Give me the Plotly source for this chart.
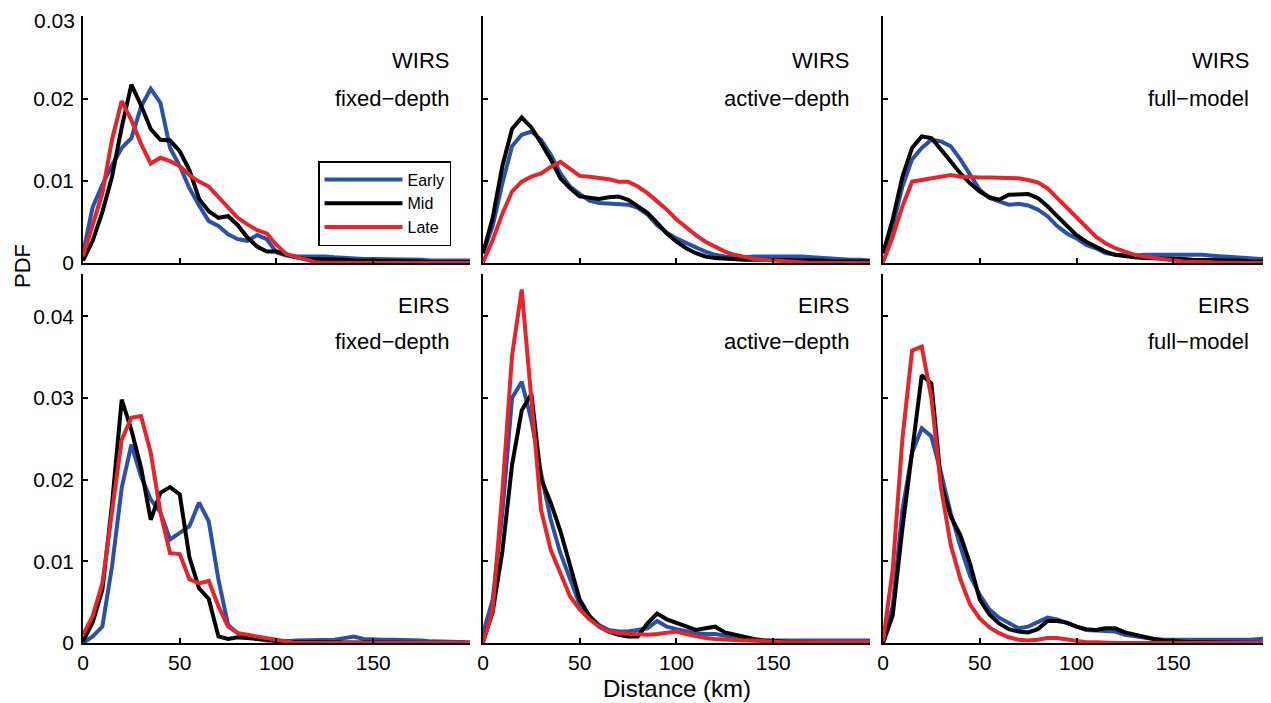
import plotly.graph_objects as go

# ---------------- data ----------------
distance_km = list(range(0, 201, 5))  # 0..200 km, 41 points

# WIRS fixed-depth
wirs_fixed_early = [0.0012, 0.0068, 0.0095, 0.0119, 0.0140, 0.0152, 0.0190, 0.0212, 0.0195, 0.0140,
                    0.0118, 0.0091, 0.0070, 0.0051, 0.0045, 0.0035, 0.0029, 0.0027, 0.0034, 0.0029,
                    0.0013, 0.0009, 0.0008, 0.0008, 0.0009, 0.0008, 0.0007, 0.0006, 0.0006, 0.0005,
                    0.0005, 0.0005, 0.0004, 0.0004, 0.0004, 0.0004, 0.0003, 0.0003, 0.0003, 0.0003, 0.0003]
wirs_fixed_mid = [0.0003, 0.0027, 0.0062, 0.0105, 0.0165, 0.0217, 0.0192, 0.0163, 0.0150, 0.0149,
                  0.0136, 0.0113, 0.0078, 0.0063, 0.0055, 0.0057, 0.0046, 0.0031, 0.0020, 0.0014,
                  0.0014, 0.0010, 0.0007, 0.0005, 0.0005, 0.0004, 0.0004, 0.0004, 0.0003, 0.0003,
                  0.0003, 0.0003, 0.0002, 0.0002, 0.0002, 0.0002, 0.0001, 0.0001, 0.0001, 0.0001, 0.0001]
wirs_fixed_late = [0.0008, 0.0045, 0.0085, 0.0150, 0.0197, 0.0174, 0.0145, 0.0121, 0.0128, 0.0124,
                   0.0118, 0.0107, 0.0099, 0.0093, 0.0080, 0.0067, 0.0055, 0.0047, 0.0040, 0.0036,
                   0.0022, 0.0011, 0.0008, 0.0004, 0.0001, 0.0, 0.0, 0.0, 0.0, 0.0,
                   0.0, 0.0, 0.0, 0.0, 0.0, 0.0, 0.0, 0.0, 0.0, 0.0, 0.0]

# WIRS active-depth
wirs_active_early = [0.0012, 0.0045, 0.0097, 0.0142, 0.0156, 0.0160, 0.0150, 0.0132, 0.0109, 0.0093,
                     0.0084, 0.0076, 0.0073, 0.0072, 0.0072, 0.0071, 0.0067, 0.0059, 0.0046, 0.0037,
                     0.0030, 0.0024, 0.0019, 0.0014, 0.0010, 0.0008, 0.0007, 0.0007, 0.0008, 0.0008,
                     0.0009, 0.0009, 0.0008, 0.0008, 0.0007, 0.0006, 0.0005, 0.0005, 0.0004, 0.0004, 0.0003]
wirs_active_mid = [0.0012, 0.0055, 0.0118, 0.0163, 0.0177, 0.0165, 0.0146, 0.0126, 0.0103, 0.0091,
                   0.0081, 0.0079, 0.0078, 0.0080, 0.0081, 0.0077, 0.0069, 0.0061, 0.0049, 0.0036,
                   0.0026, 0.0018, 0.0012, 0.0008, 0.0006, 0.0005, 0.0004, 0.0004, 0.0004, 0.0004,
                   0.0004, 0.0003, 0.0003, 0.0003, 0.0003, 0.0003, 0.0002, 0.0002, 0.0002, 0.0002, 0.0002]
wirs_active_late = [0.0001, 0.0028, 0.0060, 0.0087, 0.0099, 0.0105, 0.0109, 0.0117, 0.0123, 0.0115,
                    0.0106, 0.0105, 0.0104, 0.0102, 0.0099, 0.0099, 0.0093, 0.0085, 0.0075, 0.0065,
                    0.0053, 0.0043, 0.0034, 0.0026, 0.0020, 0.0014, 0.0010, 0.0007, 0.0005, 0.0004,
                    0.0003, 0.0002, 0.0001, 0.0001, 0.0, 0.0, 0.0, 0.0, 0.0, 0.0, 0.0]

# WIRS full-model
wirs_full_early = [0.0012, 0.0045, 0.0093, 0.0126, 0.0140, 0.0150, 0.0148, 0.0142, 0.0126, 0.0107,
                   0.0089, 0.0079, 0.0075, 0.0071, 0.0072, 0.0070, 0.0065, 0.0057, 0.0045, 0.0036,
                   0.0030, 0.0022, 0.0018, 0.0012, 0.0010, 0.0009, 0.0009, 0.0010, 0.0010, 0.0011,
                   0.0011, 0.0011, 0.0010, 0.0010, 0.0009, 0.0008, 0.0007, 0.0006, 0.0005, 0.0005, 0.0006]
wirs_full_mid = [0.0012, 0.0053, 0.0105, 0.0140, 0.0154, 0.0152, 0.0138, 0.0123, 0.0109, 0.0097,
                 0.0087, 0.0080, 0.0077, 0.0083, 0.0084, 0.0084, 0.0079, 0.0069, 0.0057, 0.0045,
                 0.0034, 0.0026, 0.0020, 0.0014, 0.0010, 0.0008, 0.0007, 0.0006, 0.0006, 0.0005,
                 0.0005, 0.0005, 0.0004, 0.0004, 0.0004, 0.0003, 0.0003, 0.0003, 0.0002, 0.0002, 0.0002]
wirs_full_late = [0.0001, 0.0032, 0.0069, 0.0099, 0.0101, 0.0103, 0.0105, 0.0107, 0.0105, 0.0104,
                  0.0104, 0.0104, 0.0104, 0.0104, 0.0103, 0.0101, 0.0098, 0.0091, 0.0079, 0.0067,
                  0.0055, 0.0043, 0.0032, 0.0024, 0.0018, 0.0014, 0.0010, 0.0008, 0.0006, 0.0004,
                  0.0003, 0.0002, 0.0002, 0.0001, 0.0001, 0.0, 0.0, 0.0, 0.0, 0.0, 0.0]

# EIRS fixed-depth
eirs_fixed_early = [0.0000, 0.0008, 0.0020, 0.0094, 0.0190, 0.0243, 0.0204, 0.0176, 0.0160, 0.0127,
                    0.0135, 0.0143, 0.0172, 0.0149, 0.0078, 0.0022, 0.0012, 0.0008, 0.0005, 0.0003,
                    0.0002, 0.0002, 0.0003, 0.0003, 0.0003, 0.0003, 0.0004, 0.0006, 0.0008, 0.0005,
                    0.0004, 0.0004, 0.0004, 0.0004, 0.0003, 0.0003, 0.0002, 0.0002, 0.0002, 0.0001, 0.0001]
eirs_fixed_mid = [0.0002, 0.0025, 0.0065, 0.0170, 0.0298, 0.0261, 0.0215, 0.0151, 0.0184, 0.0191,
                  0.0182, 0.0105, 0.0067, 0.0054, 0.0008, 0.0005, 0.0007, 0.0006, 0.0004, 0.0003,
                  0.0002, 0.0001, 0.0001, 0.0001, 0.0001, 0.0001, 0.0001, 0.0001, 0.0001, 0.0001,
                  0.0001, 0.0, 0.0, 0.0, 0.0, 0.0, 0.0, 0.0, 0.0, 0.0, 0.0]
eirs_fixed_late = [0.0010, 0.0033, 0.0073, 0.0159, 0.0249, 0.0276, 0.0278, 0.0233, 0.0160, 0.0110,
                   0.0109, 0.0078, 0.0073, 0.0076, 0.0045, 0.0020, 0.0012, 0.0010, 0.0008, 0.0006,
                   0.0003, 0.0001, 0.0, 0.0, 0.0, 0.0, 0.0, 0.0, 0.0, 0.0,
                   0.0, 0.0, 0.0, 0.0, 0.0, 0.0, 0.0, 0.0, 0.0, 0.0, 0.0]

# EIRS active-depth
eirs_active_early = [0.0012, 0.0053, 0.0160, 0.0300, 0.0320, 0.0273, 0.0208, 0.0151, 0.0110, 0.0078,
                     0.0047, 0.0033, 0.0022, 0.0016, 0.0014, 0.0014, 0.0016, 0.0018, 0.0027, 0.0020,
                     0.0017, 0.0014, 0.0012, 0.0011, 0.0011, 0.0009, 0.0006, 0.0004, 0.0003, 0.0003,
                     0.0003, 0.0003, 0.0003, 0.0003, 0.0003, 0.0003, 0.0003, 0.0003, 0.0003, 0.0003, 0.0003]
eirs_active_mid = [0.0002, 0.0038, 0.0112, 0.0218, 0.0285, 0.0305, 0.0201, 0.0172, 0.0137, 0.0093,
                   0.0053, 0.0033, 0.0020, 0.0014, 0.0010, 0.0008, 0.0008, 0.0024, 0.0036, 0.0029,
                   0.0025, 0.0021, 0.0016, 0.0018, 0.0020, 0.0013, 0.0010, 0.0007, 0.0005, 0.0003,
                   0.0002, 0.0002, 0.0001, 0.0001, 0.0001, 0.0001, 0.0, 0.0, 0.0, 0.0, 0.0]
eirs_active_late = [0.0000, 0.0041, 0.0185, 0.0352, 0.0433, 0.0302, 0.0163, 0.0114, 0.0086, 0.0057,
                    0.0041, 0.0029, 0.0020, 0.0014, 0.0012, 0.0011, 0.0010, 0.0010, 0.0011, 0.0012,
                    0.0014, 0.0011, 0.0008, 0.0006, 0.0005, 0.0004, 0.0004, 0.0003, 0.0003, 0.0002,
                    0.0002, 0.0001, 0.0001, 0.0001, 0.0001, 0.0001, 0.0001, 0.0001, 0.0001, 0.0001, 0.0001]

# EIRS full-model
eirs_full_early = [0.0004, 0.0045, 0.0163, 0.0233, 0.0263, 0.0253, 0.0208, 0.0159, 0.0118, 0.0082,
                   0.0059, 0.0041, 0.0031, 0.0024, 0.0018, 0.0020, 0.0025, 0.0031, 0.0029, 0.0024,
                   0.0020, 0.0016, 0.0015, 0.0015, 0.0014, 0.0010, 0.0008, 0.0006, 0.0005, 0.0004,
                   0.0004, 0.0003, 0.0003, 0.0003, 0.0003, 0.0003, 0.0003, 0.0003, 0.0004, 0.0005, 0.0006]
eirs_full_mid = [0.0000, 0.0034, 0.0140, 0.0235, 0.0328, 0.0318, 0.0195, 0.0155, 0.0132, 0.0097,
                 0.0053, 0.0035, 0.0024, 0.0017, 0.0014, 0.0013, 0.0017, 0.0027, 0.0027, 0.0025,
                 0.0020, 0.0017, 0.0016, 0.0018, 0.0018, 0.0013, 0.0010, 0.0007, 0.0005, 0.0003,
                 0.0002, 0.0002, 0.0001, 0.0001, 0.0001, 0.0001, 0.0, 0.0, 0.0, 0.0, 0.0]
eirs_full_late = [0.0002, 0.0090, 0.0250, 0.0358, 0.0363, 0.0300, 0.0190, 0.0120, 0.0078, 0.0047,
                  0.0030, 0.0019, 0.0012, 0.0007, 0.0004, 0.0003, 0.0004, 0.0006, 0.0006, 0.0004,
                  0.0002, 0.0001, 0.0001, 0.0, 0.0, 0.0, 0.0, 0.0, 0.0, 0.0,
                  0.0, 0.0, 0.0, 0.0, 0.0, 0.0, 0.0, 0.0, 0.0, 0.0, 0.0]

series_names = ["Early", "Mid", "Late"]
series_colors = ["#2b50a8", "#000000", "#e5242b"]
region_labels = ["WIRS", "WIRS", "WIRS", "EIRS", "EIRS", "EIRS"]
model_labels = ["fixed\u2212depth", "active\u2212depth", "full\u2212model",
                "fixed\u2212depth", "active\u2212depth", "full\u2212model"]
x_ticks = [0, 50, 100, 150]
y_ticks_top = [0, 0.01, 0.02, 0.03]
y_ticks_bottom = [0, 0.01, 0.02, 0.03, 0.04]

panels = [
    (wirs_fixed_early, wirs_fixed_mid, wirs_fixed_late),
    (wirs_active_early, wirs_active_mid, wirs_active_late),
    (wirs_full_early, wirs_full_mid, wirs_full_late),
    (eirs_fixed_early, eirs_fixed_mid, eirs_fixed_late),
    (eirs_active_early, eirs_active_mid, eirs_active_late),
    (eirs_full_early, eirs_full_mid, eirs_full_late),
]


def tick_label(v):
    return "0" if v == 0 else f"{v:.2f}"


# ---------------- figure ----------------
FONT = "Liberation Sans, Arial, Helvetica, sans-serif"
fig = go.Figure()

for p, series in enumerate(panels):
    ax = "" if p == 0 else str(p + 1)
    for s, vals in enumerate(series):
        fig.add_trace(go.Scatter(
            x=distance_km, y=vals, mode="lines",
            line=dict(color=series_colors[s], width=4),
            name=series_names[s], legendgroup=series_names[s],
            showlegend=(p == 0),
            xaxis="x" + ax, yaxis="y" + ax,
        ))

x_domains = [[0.0, 0.326], [0.337, 0.663], [0.674, 1.0]]
y_domains = [[0.606, 1.0], [0.0, 0.5885]]

# page body has an 8px margin, so the figure is drawn 8px smaller and offset
layout = dict(
    width=1263, height=695,
    margin=dict(l=75, r=1, t=8, b=60, autoexpand=False),
    paper_bgcolor="white", plot_bgcolor="white",
    font=dict(family=FONT, size=21, color="black"),
    showlegend=True,
    legend=dict(
        x=(318 - 83) / 1187, y=(643 - 161) / 627, xanchor="left", yanchor="top",
        bgcolor="white", bordercolor="black", borderwidth=1.5,
        font=dict(family=FONT, size=16, color="black"),
        itemwidth=78, tracegroupgap=0,
    ),
)

annotations = []
for p in range(6):
    row, col = divmod(p, 3)
    ax = "" if p == 0 else str(p + 1)
    layout["xaxis" + ax] = dict(
        domain=x_domains[col], range=[0, 200],
        anchor="y" + ax, automargin=False,
        tickvals=x_ticks, ticktext=[str(v) for v in x_ticks],
        showticklabels=(row == 1),
        ticks="inside", ticklen=5, tickwidth=1.5, tickcolor="black",
        showline=True, linecolor="black", linewidth=1.5,
        showgrid=False, zeroline=False, mirror=False,
        tickfont=dict(family=FONT, size=21, color="black"),
    )
    yt = y_ticks_top if row == 0 else y_ticks_bottom
    # the top-most label of the upper-left axis sits at the page edge:
    # draw it as a separate text a little lower so it is not clipped
    ytext = [tick_label(v) for v in yt]
    if row == 0:
        ytext[-1] = ""
    layout["yaxis" + ax] = dict(
        domain=y_domains[row], range=[0, 0.03005] if row == 0 else [0, 0.0452],
        anchor="x" + ax, automargin=False,
        tickvals=yt, ticktext=ytext,
        showticklabels=(col == 0),
        ticks="inside", ticklen=5, tickwidth=1.5, tickcolor="black",
        showline=True, linecolor="black", linewidth=1.5,
        showgrid=False, zeroline=False, mirror=False,
        ticklabelstandoff=3,
        tickfont=dict(family=FONT, size=21, color="black"),
    )
    y1, y2 = (0.818, 0.668) if row == 0 else (0.916, 0.817)
    annotations.append(dict(
        text=region_labels[p], xref="x" + ax + " domain", yref="y" + ax + " domain",
        x=0.95, y=y1, xanchor="right", yanchor="middle", showarrow=False,
        font=dict(family=FONT, size=22, color="black"),
    ))
    annotations.append(dict(
        text=model_labels[p], xref="x" + ax + " domain", yref="y" + ax + " domain",
        x=0.95, y=y2, xanchor="right", yanchor="middle", showarrow=False,
        font=dict(family=FONT, size=22, color="black"),
    ))

# top label of upper-left y axis
annotations.append(dict(
    text=tick_label(y_ticks_top[-1]), xref="x domain", yref="y",
    x=0, y=y_ticks_top[-1], xanchor="right", yanchor="middle",
    xshift=-6, yshift=-4, showarrow=False,
    font=dict(family=FONT, size=21, color="black"),
))

annotations.append(dict(
    text="Distance (km)", xref="paper", yref="paper", x=0.5, y=(643 - 688) / 627,
    xanchor="center", yanchor="middle", showarrow=False,
    font=dict(family=FONT, size=24, color="black"),
))
annotations.append(dict(
    text="PDF", xref="paper", yref="paper", x=(22 - 83) / 1187, y=(643 - 266) / 627,
    xanchor="center", yanchor="middle", textangle=-90, showarrow=False,
    font=dict(family=FONT, size=22, color="black"),
))
layout["annotations"] = annotations

fig.update_layout(**layout)
fig.write_html("out.html")
